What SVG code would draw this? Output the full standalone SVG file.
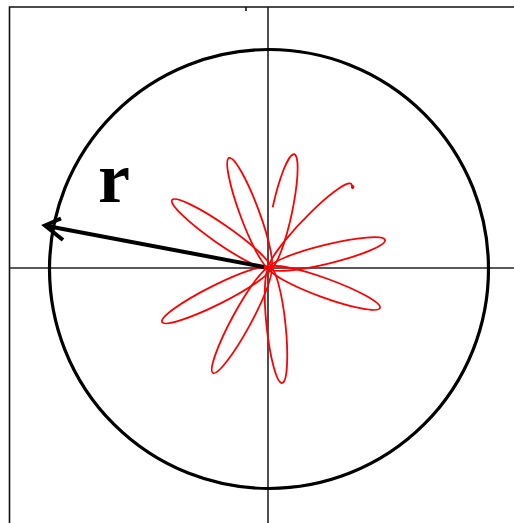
<svg xmlns="http://www.w3.org/2000/svg" width="514" height="523" viewBox="0 0 514 523">
<style>
.frame{stroke:#111;stroke-width:1.6;fill:none}
.axis{stroke:#222;stroke-width:1.6;fill:none}
.orbit{stroke:#000;stroke-width:3.2;fill:none}
.petal{stroke:#ff0000;stroke-width:1.8;fill:none}
.arrow{stroke:#000;stroke-width:4;fill:none}
.lbl{font-family:"Liberation Serif","Times New Roman",serif;font-weight:bold;font-size:72px;fill:#000}
</style>
<rect width="514" height="523" fill="#fff"/>
<g id="frame">
<path class="frame" d="M9.5,523 V7 H514"/>
<path class="frame" d="M246,7 V11"/>
</g>
<g id="axes">
<line class="axis" x1="268" y1="7" x2="268" y2="523"/>
<line class="axis" x1="9.5" y1="268" x2="514" y2="268"/>
</g>
<circle id="boundary" class="orbit" cx="269" cy="269" r="219.5"/>
<g id="rosette">
<ellipse class="petal" cx="328.43" cy="268" rx="58.97" ry="9.5" transform="rotate(-110.4 270 268)"/>
<ellipse class="petal" cx="328.97" cy="268" rx="59.43" ry="9.5" transform="rotate(-13.7 270 268)"/>
<ellipse class="petal" cx="328.18" cy="268" rx="58.82" ry="9.5" transform="rotate(20 270 268)"/>
<ellipse class="petal" cx="327.5" cy="268" rx="58.1" ry="9.5" transform="rotate(84 270 268)"/>
<ellipse class="petal" cx="329.51" cy="268" rx="59.99" ry="9.5" transform="rotate(118.5 270 268)"/>
<ellipse class="petal" cx="330.04" cy="268" rx="60.66" ry="9.5" transform="rotate(153.4 270 268)"/>
<ellipse class="petal" cx="329.4" cy="268" rx="59.9" ry="9.5" transform="rotate(-145.2 270 268)"/>
<path class="petal" transform="translate(270 268) rotate(-78)" d="M60,-10 A58.36,10 0 1 1 2.09,2.9"/>
<path class="petal" transform="translate(270 268) rotate(-46)" d="M1.99,-2.8 A58.82,9.5 0 0 1 116.34,1.4 q1.2,2.4 -1,2.6 q-1.5,-0.6 0.3,-1.8"/>
</g>
<g id="radius">
<line class="arrow" x1="264" y1="267" x2="47" y2="226"/>
<polyline class="arrow" points="61,218.5 45,225.5 63,240"/>
<text class="lbl" x="98" y="202">r</text>
</g>
</svg>
